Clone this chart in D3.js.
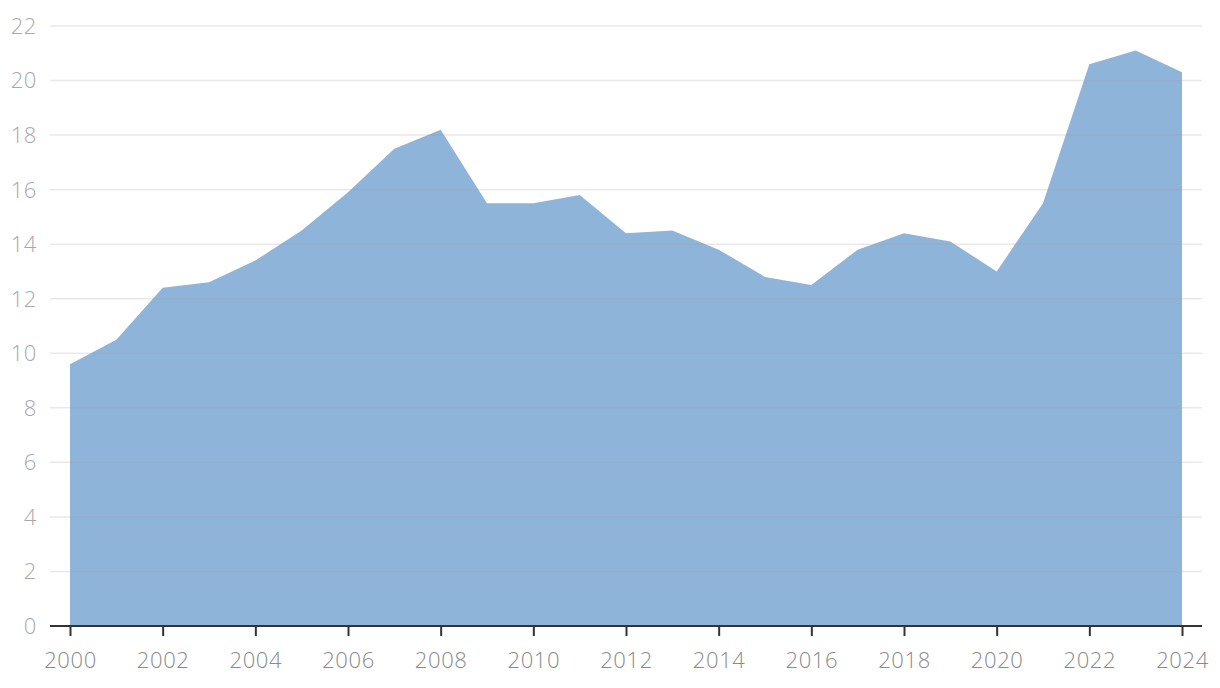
<!DOCTYPE html>
<html>
<head>
<meta charset="utf-8">
<script src="https://cdn.jsdelivr.net/npm/d3@7"></script>
<style>
  body { margin: 0; background: #fff; }
  svg text { font-family: "Open Sans", "Lato", sans-serif; font-weight: 300; letter-spacing: 0.6px; }
</style>
</head>
<body>
<div id="chart"></div>
<script>
// values
var years = d3.range(2000, 2025);
var values = [9.6, 10.5, 12.4, 12.6, 13.4, 14.5, 15.9, 17.5, 18.2, 15.5, 15.5, 15.8,
  14.4, 14.5, 13.8, 12.8, 12.5, 13.8, 14.4, 14.1, 13.0, 15.5, 20.6, 21.1, 20.3];
var yTicks = d3.range(0, 23, 2);
var xTicks = d3.range(2000, 2025, 2);

var svgWidth = 1220;
var svgHeight = 688;
var margin = { top: 26, right: 18, bottom: 62, left: 50 };

var svg = d3.select("#chart").append("svg")
  .attr("width", svgWidth)
  .attr("height", svgHeight);

var x = d3.scaleLinear().domain([2000, 2024]).range([70, 1182]);
var y = d3.scaleLinear().domain([0, 22]).range([svgHeight - margin.bottom, margin.top]);

var data = years.map(function(yr, i) { return { year: yr, value: values[i] }; });

// area
var area = d3.area()
  .x(d => x(d.year))
  .y0(y(0))
  .y1(d => y(d.value));

svg.append("path")
  .datum(data)
  .attr("d", area)
  .attr("fill", "#8fb4da");

// grid lines (drawn over the area)
svg.append("g")
  .selectAll("line")
  .data(yTicks.filter(d => d > 0))
  .enter()
  .append("line")
  .attr("x1", margin.left)
  .attr("x2", svgWidth - margin.right)
  .attr("y1", d => y(d))
  .attr("y2", d => y(d))
  .attr("stroke", "#999")
  .attr("stroke-opacity", 0.22)
  .attr("stroke-width", 1.5);

// y labels
svg.append("g")
  .selectAll("text")
  .data(yTicks)
  .enter()
  .append("text")
  .attr("x", 37)
  .attr("y", d => y(d))
  .attr("dy", "0.36em")
  .attr("text-anchor", "end")
  .attr("fill", "#a8a8a8")
  .style("font-size", "22px")
  .text(d => d);

// x axis
var xAxis = d3.axisBottom(x)
  .tickValues(xTicks)
  .tickFormat(d3.format("d"))
  .tickSize(10)
  .tickPadding(16);

var xg = svg.append("g")
  .attr("transform", `translate(0, ${y(0)})`)
  .call(xAxis);

xg.select(".domain").remove();
xg.append("line")
  .attr("x1", margin.left)
  .attr("x2", svgWidth - margin.right)
  .attr("stroke", "#333")
  .attr("stroke-width", 2);
xg.selectAll(".tick line").attr("stroke", "#333").attr("stroke-width", 2);
xg.selectAll(".tick text")
  .attr("fill", "#8a8a8a")
  .style("font-size", "22px");
</script>
</body>
</html>
